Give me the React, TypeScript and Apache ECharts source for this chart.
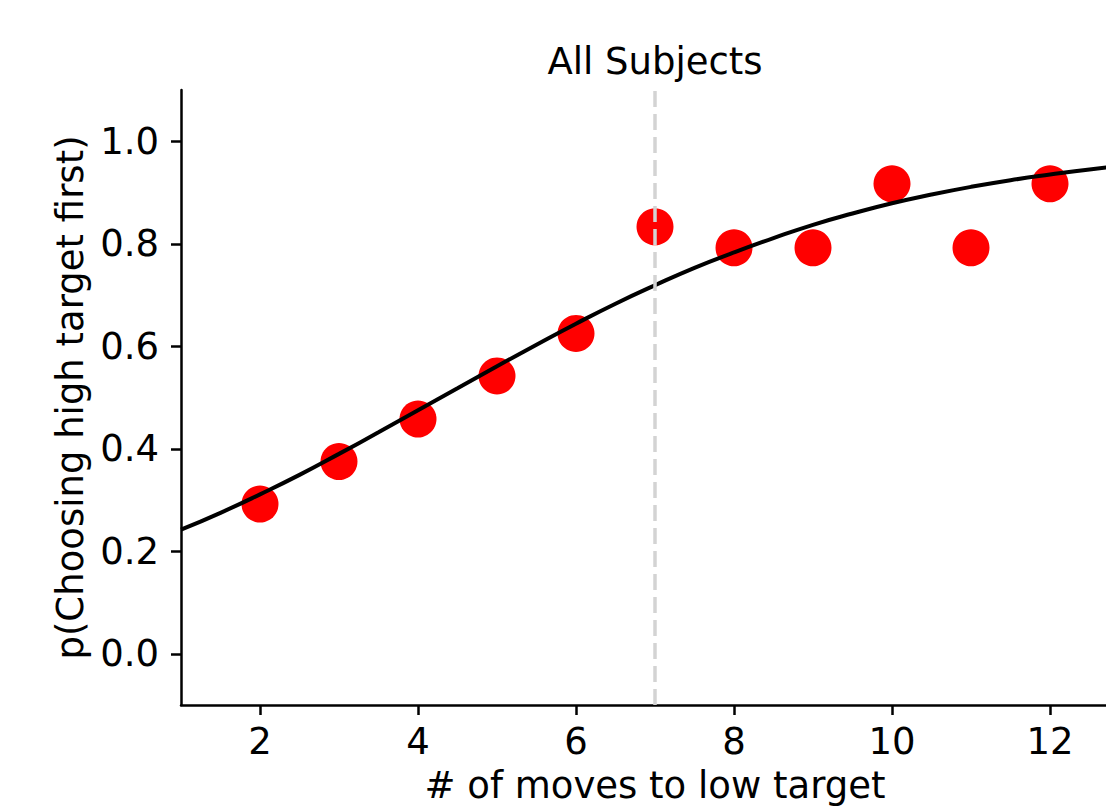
import React, { useEffect, useRef } from "react";
import * as echarts from "echarts";

// Observed proportions (red dots)
const movesX = [2, 3, 4, 5, 6, 7, 8, 9, 10, 11, 12];
const pHigh = [0.292, 0.375, 0.458, 0.542, 0.625, 0.833, 0.792, 0.792, 0.917, 0.792, 0.917];

// Fitted curve
const curveX = [1, 1.5, 2, 2.5, 3, 3.5, 4, 4.5, 5, 5.5, 6, 6.5, 7, 7.5, 8, 8.5, 9, 9.5, 10, 10.5, 11, 11.5, 12, 12.5, 13];
const curveY = [0.242, 0.275, 0.311, 0.349, 0.39, 0.432, 0.475, 0.518, 0.561, 0.603, 0.644, 0.683, 0.719, 0.753, 0.783, 0.811, 0.837, 0.859, 0.879, 0.896, 0.911, 0.924, 0.935, 0.945, 0.953];

const xTicks = [2, 4, 6, 8, 10, 12];
const yTicks = [0, 0.2, 0.4, 0.6, 0.8, 1.0];
const thresholdX = 7;

const FONT = "DejaVu Sans";

export default function App() {
  const ref = useRef<HTMLDivElement>(null);
  useEffect(() => {
    if (!ref.current) return;
    const chart = echarts.init(ref.current, null, { renderer: "svg" });
    chart.setOption({
      animation: false,
      backgroundColor: "#ffffff",
      title: {
        text: "All Subjects",
        left: 650,
        top: 38,
        textAlign: "center",
        textStyle: { fontFamily: FONT, fontSize: 37, fontWeight: "normal", color: "#000" },
      },
      grid: { left: 181, top: 90, right: 1, bottom: 103, containLabel: false },
      xAxis: {
        type: "value",
        min: 1,
        max: 13,
        name: "# of moves to low target",
        nameLocation: "middle",
        nameGap: 62,
        nameTextStyle: { fontFamily: FONT, fontSize: 37, color: "#000" },
        splitLine: { show: false },
        axisLine: { show: true, onZero: false, lineStyle: { color: "#000", width: 2.5 } },
        axisTick: { show: true, length: 10, customValues: xTicks, lineStyle: { color: "#000", width: 2.5 } },
        axisLabel: {
          customValues: xTicks,
          margin: 18,
          fontFamily: FONT,
          fontSize: 37,
          color: "#000",
          formatter: (v: number) => String(v),
        },
      },
      yAxis: {
        type: "value",
        min: -0.1,
        max: 1.1,
        name: "p(Choosing high target first)",
        nameLocation: "middle",
        nameGap: 91,
        nameTextStyle: { fontFamily: FONT, fontSize: 37, color: "#000" },
        splitLine: { show: false },
        axisLine: { show: true, onZero: false, lineStyle: { color: "#000", width: 2.5 } },
        axisTick: { show: true, length: 10, customValues: yTicks, lineStyle: { color: "#000", width: 2.5 } },
        axisLabel: {
          customValues: yTicks,
          margin: 22,
          fontFamily: FONT,
          fontSize: 37,
          color: "#000",
          formatter: (v: number) => v.toFixed(1),
        },
      },
      series: [
        {
          type: "line",
          data: [],
          z: 1,
          markLine: {
            silent: true,
            symbol: "none",
            label: { show: false },
            lineStyle: { color: "#d3d3d3", width: 3.5, type: [16, 7], opacity: 1 },
            data: [{ xAxis: thresholdX }],
          },
        },
        {
          type: "scatter",
          z: 2,
          symbol: "circle",
          symbolSize: 37,
          itemStyle: { color: "#ff0000", opacity: 1 },
          data: movesX.map((x, i) => [x, pHigh[i]]),
        },
        {
          type: "line",
          z: 3,
          smooth: true,
          showSymbol: false,
          symbol: "none",
          lineStyle: { color: "#000", width: 4 },
          data: curveX.map((x, i) => [x, curveY[i]]),
        },
      ],
    });
    return () => chart.dispose();
  }, []);
  return (
    <div style={{ position: "fixed", left: 0, top: 0, width: 1106, height: 809, overflow: "hidden", background: "#fff" }}>
      <div ref={ref} style={{ position: "absolute", left: 0, top: 0, width: 1130, height: 809 }} />
    </div>
  );
}
